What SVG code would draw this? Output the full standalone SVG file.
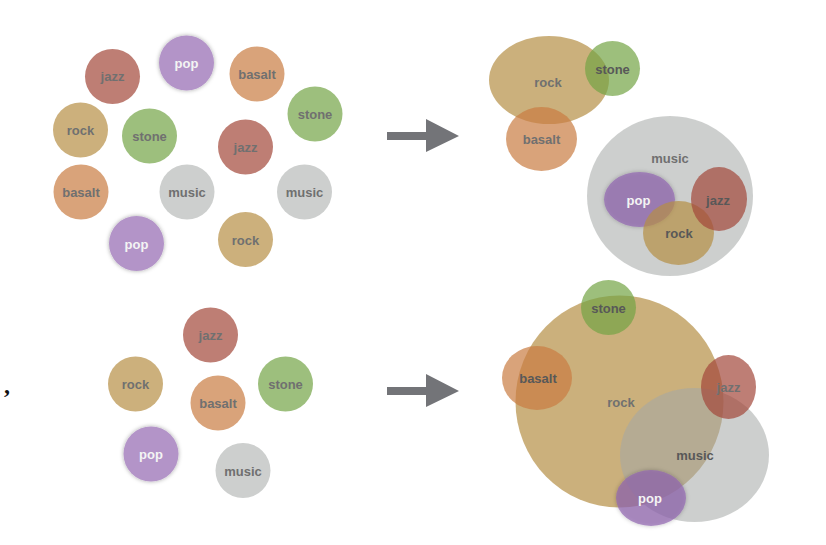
<svg xmlns="http://www.w3.org/2000/svg" width="826" height="545" viewBox="0 0 826 545">
<defs>
<filter id="shadow" x="-30%" y="-30%" width="160%" height="160%">
<feDropShadow dx="0" dy="0" stdDeviation="2.2" flood-color="#000" flood-opacity="0.35"/>
</filter>
<style>
text{font-family:"Liberation Sans",Arial,Helvetica,sans-serif;font-weight:bold;font-size:13px;text-anchor:middle;fill:#707070}
text.w{fill:#f4f4f4}
text.d{fill:#585858}
.jazz{fill:#BE7E74}.pop{fill:#B394C8}.basalt{fill:#D9A37A}.stone{fill:#9DBF7D}.rock{fill:#CCB07C}.music{fill:#CDCFCE}
.tjazz{fill:#A2473A;fill-opacity:0.7}.tpop{fill:#9266B0;fill-opacity:0.7}.tbasalt{fill:#C97C41;fill-opacity:0.7}
.tstone{fill:#73A445;fill-opacity:0.7}.trock{fill:#B58E44;fill-opacity:0.7}.tmusic{fill:#A4A7A6;fill-opacity:0.55}
.sh{filter:url(#shadow)}
.arrow{fill:#737478}
</style>
</defs>
<rect width="826" height="545" fill="#fff"/>

<!-- top-left scattered nodes -->
<g id="tl-jazz1"><circle class="jazz" cx="112.5" cy="76.5" r="27.5"/><text x="112.5" y="81">jazz</text></g>
<g id="tl-pop1"><circle class="pop sh" cx="186.5" cy="63" r="27.5"/><text class="w" x="186.5" y="68">pop</text></g>
<g id="tl-basalt1"><circle class="basalt" cx="257" cy="74" r="27.5"/><text x="257" y="79">basalt</text></g>
<g id="tl-stone1"><circle class="stone" cx="315" cy="114" r="27.5"/><text x="315" y="119">stone</text></g>
<g id="tl-rock1"><circle class="rock" cx="80.5" cy="130" r="27.5"/><text x="80.5" y="135">rock</text></g>
<g id="tl-stone2"><circle class="stone" cx="149.5" cy="136" r="27.5"/><text x="149.5" y="141">stone</text></g>
<g id="tl-jazz2"><circle class="jazz" cx="245.5" cy="147" r="27.5"/><text x="245.5" y="152">jazz</text></g>
<g id="tl-basalt2"><circle class="basalt" cx="81" cy="192" r="27.5"/><text x="81" y="197">basalt</text></g>
<g id="tl-music1"><circle class="music" cx="187" cy="192" r="27.5"/><text x="187" y="197">music</text></g>
<g id="tl-music2"><circle class="music" cx="304.5" cy="192" r="27.5"/><text x="304.5" y="197">music</text></g>
<g id="tl-pop2"><circle class="pop sh" cx="136.5" cy="243.5" r="27.5"/><text class="w" x="136.5" y="248.5">pop</text></g>
<g id="tl-rock2"><circle class="rock" cx="245.5" cy="239.5" r="27.5"/><text x="245.5" y="244.5">rock</text></g>

<!-- top-right merged nodes -->
<g id="tr-rock"><ellipse class="trock" cx="549" cy="80" rx="60" ry="44"/><text x="548" y="87">rock</text></g>
<g id="tr-stone"><circle class="tstone" cx="612.5" cy="68.5" r="27.5"/><text class="d" x="612.5" y="74">stone</text></g>
<g id="tr-basalt"><ellipse class="tbasalt" cx="541.5" cy="139" rx="35.5" ry="32"/><text x="541.5" y="143.5">basalt</text></g>
<g id="tr-music"><ellipse class="tmusic" cx="670" cy="196" rx="83" ry="80"/><text x="670" y="163">music</text></g>
<g id="tr-pop"><ellipse class="tpop sh" cx="639.5" cy="199.5" rx="35.5" ry="27.5"/><text class="w" x="638.5" y="204.5">pop</text></g>
<g id="tr-rock2"><ellipse class="trock" cx="678.5" cy="233" rx="35.5" ry="32"/><text class="d" x="679" y="238">rock</text></g>
<g id="tr-jazz"><ellipse class="tjazz" cx="719" cy="199" rx="28" ry="32"/><text class="d" x="718" y="204.5">jazz</text></g>

<!-- bottom-left scattered nodes -->
<g id="bl-comma"><text x="7" y="393" style="font-family:'Liberation Serif','Times New Roman',serif;font-size:24px;font-weight:bold;fill:#111">,</text></g>
<g id="bl-jazz"><circle class="jazz" cx="210.5" cy="335" r="27.5"/><text x="210.5" y="340">jazz</text></g>
<g id="bl-rock"><circle class="rock" cx="135.5" cy="384" r="27.5"/><text x="135.5" y="389">rock</text></g>
<g id="bl-basalt"><circle class="basalt" cx="218" cy="403" r="27.5"/><text x="218" y="408">basalt</text></g>
<g id="bl-stone"><circle class="stone" cx="285.5" cy="384" r="27.5"/><text x="285.5" y="389">stone</text></g>
<g id="bl-pop"><circle class="pop sh" cx="151" cy="454" r="27.5"/><text class="w" x="151" y="459">pop</text></g>
<g id="bl-music"><circle class="music" cx="243" cy="470.5" r="27.5"/><text x="243" y="475.5">music</text></g>

<!-- bottom-right merged nodes -->
<g id="br-rock"><ellipse class="trock" cx="619.5" cy="401.5" rx="104" ry="106"/><text x="621" y="407">rock</text></g>
<g id="br-music"><ellipse class="tmusic" cx="694.5" cy="455" rx="74.5" ry="67"/><text class="d" x="695" y="460">music</text></g>
<g id="br-stone"><circle class="tstone" cx="608.5" cy="307.5" r="27.5"/><text class="d" x="608.5" y="313">stone</text></g>
<g id="br-basalt"><ellipse class="tbasalt" cx="537" cy="378" rx="35" ry="32"/><text class="d" x="538" y="383">basalt</text></g>
<g id="br-jazz"><ellipse class="tjazz" cx="728.5" cy="387" rx="27.5" ry="32"/><text x="728.5" y="392">jazz</text></g>
<g id="br-pop"><ellipse class="tpop sh" cx="651" cy="498" rx="35" ry="28"/><text class="w" x="650" y="503">pop</text></g>

<!-- connectors -->
<g id="connectors">
<path class="arrow" d="M387,132 H426 V119 L459,136 L426,152 V140 H387 Z"/>
<path class="arrow" d="M387,387 H426 V374 L459,391 L426,407 V395 H387 Z"/>
</g>
</svg>
